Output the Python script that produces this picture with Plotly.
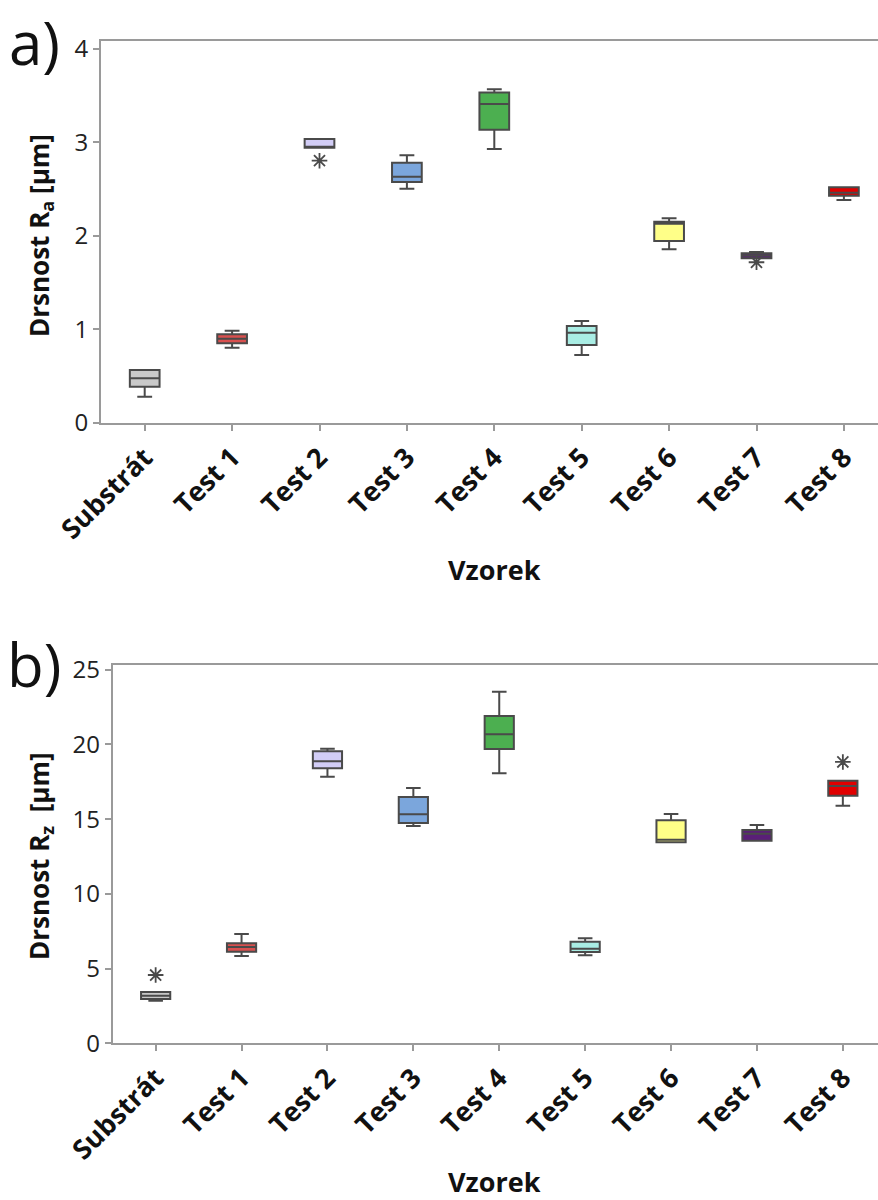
import plotly.graph_objects as go

categories = ["Substrát", "Test 1", "Test 2", "Test 3", "Test 4", "Test 5", "Test 6", "Test 7", "Test 8"]
colors = ["#c9c9c9", "#d9504f", "#d2cdf6", "#7ba6dc", "#4caf50", "#a9ede4", "#ffff88", "#5a1f78", "#e00000"]

# a) Ra [µm]
ra_low = [0.28, 0.805, 2.944, 2.506, 2.93, 0.727, 1.858, 1.762, 2.385]
ra_q1 = [0.388, 0.852, 2.944, 2.578, 3.137, 0.834, 1.947, 1.762, 2.431]
ra_med = [0.478, 0.902, 2.955, 2.634, 3.412, 0.966, 2.131, 1.790, 2.463]
ra_q3 = [0.567, 0.949, 3.037, 2.784, 3.533, 1.037, 2.153, 1.815, 2.521]
ra_high = [0.567, 0.987, 3.037, 2.863, 3.569, 1.091, 2.189, 1.829, 2.521]
ra_out_x = ["Test 2", "Test 7"]
ra_out_y = [2.805, 1.719]

# b) Rz [µm]
rz_low = [2.85, 5.84, 17.84, 14.54, 18.07, 5.89, 13.45, 13.56, 15.90]
rz_q1 = [2.97, 6.13, 18.41, 14.75, 19.70, 6.11, 13.45, 13.56, 16.57]
rz_med = [3.19, 6.45, 18.88, 15.33, 20.68, 6.33, 13.63, 14.03, 17.22]
rz_q3 = [3.43, 6.69, 19.54, 16.49, 21.91, 6.80, 14.93, 14.28, 17.58]
rz_high = [3.43, 7.32, 19.72, 17.09, 23.53, 7.03, 15.35, 14.61, 17.58]
rz_out_x = ["Substrát", "Test 8"]
rz_out_y = [4.57, 18.83]

ra_ticks = [0, 1, 2, 3, 4]
rz_ticks = [0, 5, 10, 15, 20, 25]

W, H = 878, 1200
FONT = "Open Sans"
LINE = "#4a4a4a"
AX = "#9a9a9a"

fig = go.Figure()

def add_boxes(xa, ya, low, q1, med, q3, high, ox, oy):
    for i, c in enumerate(categories):
        fig.add_trace(go.Box(
            x=[c], q1=[q1[i]], median=[med[i]], q3=[q3[i]],
            lowerfence=[low[i]], upperfence=[high[i]],
            xaxis=xa, yaxis=ya, fillcolor=colors[i],
            line=dict(color=LINE, width=2), width=0.34,
            boxpoints=False, showlegend=False, hoverinfo="skip"))
    fig.add_trace(go.Scatter(
        x=ox, y=oy, mode="markers", xaxis=xa, yaxis=ya,
        marker=dict(symbol="asterisk-open", size=13, color=LINE,
                    line=dict(color=LINE, width=1.8)),
        showlegend=False, hoverinfo="skip"))

add_boxes("x", "y", ra_low, ra_q1, ra_med, ra_q3, ra_high, ra_out_x, ra_out_y)
add_boxes("x2", "y2", rz_low, rz_q1, rz_med, rz_q3, rz_high, rz_out_x, rz_out_y)

def xaxis_cfg(left_px, cat_px):
    right_val = (W - (left_px + 0.5 * cat_px)) / cat_px
    return dict(
        domain=[left_px / W, 1], type="category", categoryorder="array",
        categoryarray=categories, range=[-0.5, right_val], automargin=False,
        showline=True, mirror=True, linecolor=AX, linewidth=2,
        ticks="outside", ticklen=6, tickwidth=2, tickcolor=AX,
        tickangle=-45, showgrid=False, zeroline=False,
        tickfont=dict(family=FONT, size=27, color="#111111", weight=700))

def yaxis_cfg(top_px, bottom_px, rng, ticks):
    return dict(
        domain=[1 - bottom_px / H, 1 - top_px / H], range=rng, automargin=False,
        tickvals=ticks, showline=True, linecolor=AX, linewidth=2,
        ticks="outside", ticklen=6, tickwidth=2, tickcolor=AX,
        showgrid=False, zeroline=False,
        tickfont=dict(family=FONT, size=24, color="#222222"))

fig.update_layout(
    width=W, height=H, margin=dict(l=0, r=0, t=0, b=0, autoexpand=False),
    paper_bgcolor="white", plot_bgcolor="white",
    xaxis=dict(anchor="y", **xaxis_cfg(101, 87.4)),
    yaxis=dict(anchor="x", **yaxis_cfg(41, 423, [0, 4.085], ra_ticks)),
    xaxis2=dict(anchor="y2", **xaxis_cfg(112.7, 85.9)),
    yaxis2=dict(anchor="x2", **yaxis_cfg(665, 1043.3, [0, 25.32], rz_ticks)),
)

def ann(text, xpx, ypx, size, angle=0, bold=True):
    fig.add_annotation(
        text=text, x=xpx / W, y=1 - ypx / H, xref="paper", yref="paper",
        xanchor="center", yanchor="middle", showarrow=False, textangle=angle,
        font=dict(family=FONT, size=size, color="#111111", weight=700 if bold else 400))

ann("a)", 34, 42, 60, bold=False)
ann("b)", 34, 664, 60, bold=False)
ann("Drsnost R<sub>a</sub> [µm]", 40, 236, 26, angle=-90)
ann("Drsnost R<sub>z</sub>  [µm]", 40, 856, 26, angle=-90)
ann("Vzorek", 494, 569, 27)
ann("Vzorek", 494, 1181, 27)

fig.write_html("out.html", config={"displayModeBar": False},
               post_script="document.body.style.margin='0';document.body.style.overflow='hidden';")
